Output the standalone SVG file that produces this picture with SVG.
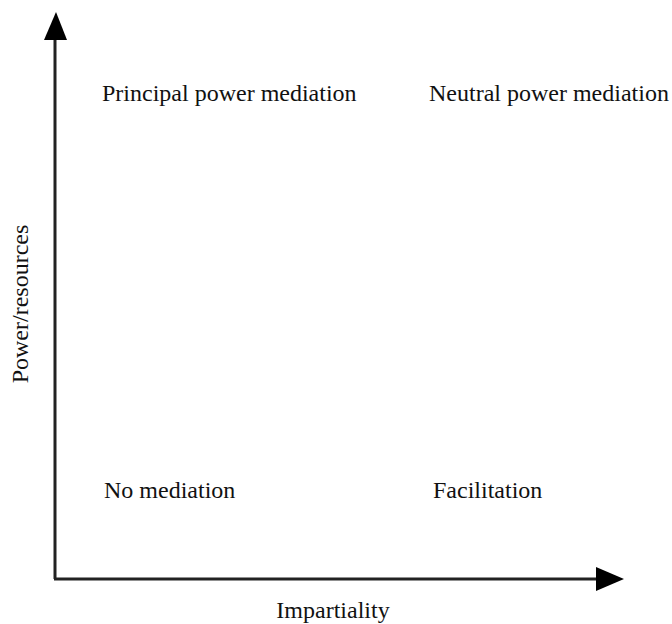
<svg xmlns="http://www.w3.org/2000/svg" width="672" height="624" viewBox="0 0 672 624">
<style>
.t{font-family:"Liberation Serif","Times New Roman",serif;font-size:24px;fill:#111}
.ax{stroke:#222;stroke-width:3;fill:none}
</style>
<rect width="672" height="624" fill="#fff"/>
<g id="connectors">
<path class="ax" d="M55,579 L55,38"/>
<path d="M44,40 L56,12 L67,40 z" fill="#000"/>
<path class="ax" d="M54,579 L598,579"/>
<path d="M596,567 L624,579 L596,591 z" fill="#000"/>
</g>
<g id="n1"><text class="t" x="102" y="101">Principal power mediation</text></g>
<g id="n2"><text class="t" x="429" y="101">Neutral power mediation</text></g>
<g id="n3"><text class="t" x="104" y="498">No mediation</text></g>
<g id="n4"><text class="t" x="433" y="498">Facilitation</text></g>
<g id="xlabel"><text class="t" x="333" y="618" text-anchor="middle">Impartiality</text></g>
<g id="ylabel"><text class="t" transform="translate(28,304) rotate(-90)" text-anchor="middle">Power/resources</text></g>
</svg>
